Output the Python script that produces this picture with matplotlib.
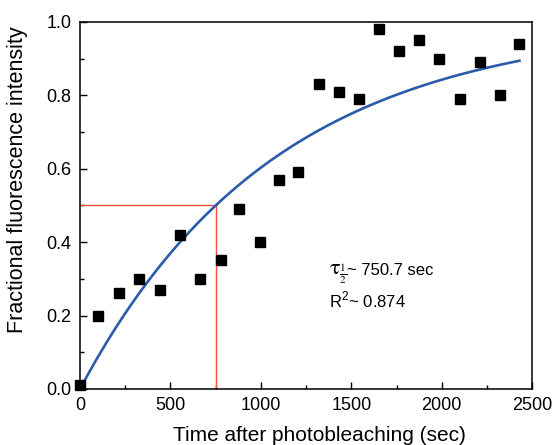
import numpy as np
import matplotlib
matplotlib.use('Agg')
import matplotlib.pyplot as plt
from matplotlib.ticker import MultipleLocator, FormatStrFormatter

plt.rcParams['font.family'] = ['Liberation Sans', 'DejaVu Sans']
plt.rcParams['mathtext.fontset'] = 'stix'

time_sec = [0, 98, 213, 328, 440, 552, 663, 777, 878, 993, 1098, 1207,
            1322, 1431, 1541, 1654, 1765, 1874, 1985, 2100, 2209, 2320, 2430]
intensity = [0.01, 0.20, 0.26, 0.30, 0.27, 0.42, 0.30, 0.35, 0.49, 0.40, 0.57, 0.59,
             0.83, 0.81, 0.79, 0.98, 0.92, 0.95, 0.90, 0.79, 0.89, 0.80, 0.94]

# Fit parameters as annotated on the chart
TAU_HALF = 750.7
R2 = 0.874
FIT_END = 2430

fig = plt.figure(figsize=(5.52, 4.45), dpi=100)
ax = fig.add_axes([0.145, 0.126, 0.819, 0.825])

# Fitted recovery curve y = 1 - 2^(-t / tau_half)
t_fit = np.linspace(0, FIT_END, 300)
ax.plot(t_fit, 1 - 2 ** (-t_fit / TAU_HALF), color='#2b5bab', lw=1.9, zorder=3)

# Half-recovery guide lines
ax.plot([TAU_HALF, TAU_HALF], [0, 0.5], color='#f0503c', lw=1.0, zorder=2)
ax.plot([0, TAU_HALF], [0.5, 0.5], color='#f0503c', lw=1.0, zorder=2)

ax.plot(time_sec, intensity, 's', color='black', markersize=7, zorder=4, clip_on=False)

# annotation: big tau with stacked 1/2 subscript, then the value
ax.text(1378, 0.311, r'$\mathrm{\tau}_{\frac{1}{2}}$', fontsize=16, va='baseline')
ax.text(1478, 0.311, f'~ {TAU_HALF} sec', fontsize=12, va='baseline')
ax.text(1378, 0.221, r'R$^{\mathregular{2}}$~ ' + f'{R2}', fontsize=12, va='baseline')

ax.set_xlim(0, 2500)
ax.set_ylim(0, 1.0)
ax.xaxis.set_major_locator(MultipleLocator(500))
ax.xaxis.set_minor_locator(MultipleLocator(250))
ax.yaxis.set_major_locator(MultipleLocator(0.2))
ax.yaxis.set_minor_locator(MultipleLocator(0.1))
ax.tick_params(which='both', direction='in', top=False, right=False, labelsize=13)
ax.tick_params(which='major', length=5, width=1, pad=6)
ax.tick_params(which='minor', length=3, width=1)
ax.yaxis.set_major_formatter(FormatStrFormatter('%.1f'))
for s in ax.spines.values():
    s.set_linewidth(1.1)

ax.set_xlabel('Time after photobleaching (sec)', fontsize=15)
ax.set_ylabel('Fractional fluorescence intensity', fontsize=15.5)
ax.xaxis.set_label_coords(0.529, -0.1)
ax.yaxis.set_label_coords(-0.115, 0.57)

fig.savefig('out.png', dpi=100)
